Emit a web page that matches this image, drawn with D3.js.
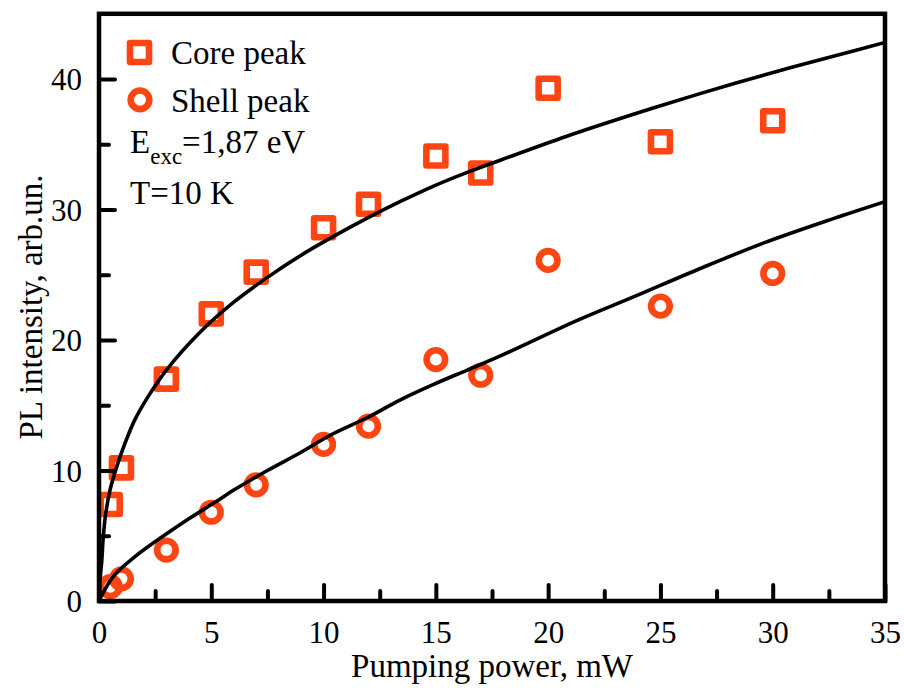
<!DOCTYPE html>
<html>
<head>
<meta charset="utf-8">
<script src="https://cdn.jsdelivr.net/npm/d3@7"></script>
<style>
  html, body { margin: 0; padding: 0; background: #fff; }
  svg { display: block; }
  text { font-family: "Liberation Serif", "Times New Roman", serif; fill: #000; }
</style>
</head>
<body>
<script>
// ---- data ----
const power = [0.5, 1, 3, 5, 7, 10, 12, 15, 17, 20, 25, 30];
const corePeak = [7.4, 10.2, 17.0, 22.0, 25.2, 28.6, 30.4, 34.1, 32.8, 39.3, 35.2, 36.8];
const shellPeak = [1.1, 1.7, 3.9, 6.8, 8.9, 12.0, 13.4, 18.5, 17.3, 26.1, 22.6, 25.1];

// fit lines, points
const coreFitX = [0, 0.04, 0.12, 0.19, 0.30, 0.49, 0.79, 1.16, 1.6, 2.2, 3.0, 4.5, 6.0, 7.5, 9.0, 10.4, 11.9, 13.4, 14.9, 16.4, 17.9, 20.8, 23.8, 26.8, 29.7, 32.7, 35];
const coreFitY = [0, 1.5, 3.0, 4.9, 6.7, 8.5, 10.3, 12.1, 13.9, 15.7, 17.7, 20.6, 22.9, 24.8, 26.5, 27.9, 29.3, 30.6, 31.8, 32.85, 33.8, 35.6, 37.3, 38.9, 40.35, 41.75, 42.8];
const shellFitX = [0, 0.3, 0.7, 1.6, 2.8, 4.0, 5.2, 6.0, 7.5, 9.0, 10.4, 12.0, 13.4, 14.9, 16.4, 17.9, 21.3, 23.8, 26.8, 29.7, 32.7, 35];
const shellFitY = [0, 1.0, 2.0, 3.4, 4.9, 6.3, 7.6, 8.5, 10.0, 11.4, 12.8, 14.1, 15.4, 16.6, 17.7, 18.8, 21.5, 23.3, 25.5, 27.5, 29.3, 30.6];

const xMajor = [0, 5, 10, 15, 20, 25, 30, 35];
const xMinor = [2.5, 7.5, 12.5, 17.5, 22.5, 27.5, 32.5];
const yMajor = [0, 10, 20, 30, 40];
const yMinor = [5, 15, 25, 35];

const legendLabels = ["Core peak", "Shell peak"];
const xTitle = "Pumping power, mW";
const yTitle = "PL intensity, arb.un.";

// ---- layout ----
const W = 904, H = 693;
const m = { left: 99, right: 19, top: 13.8, bottom: 92 };
const color = "#ff4612";

const svg = d3.select("body").append("svg").attr("width", W).attr("height", H);

const x = d3.scaleLinear().domain([0, 35]).range([m.left, W - m.right]);
const y = d3.scaleLinear().domain([0, 45]).range([H - m.bottom, m.top]);

svg.append("clipPath").attr("id", "clip").append("rect")
  .attr("x", x(0)).attr("y", y(45)).attr("width", x(35) - x(0)).attr("height", y(0) - y(45));

const plot = svg.append("g").attr("clip-path", "url(#clip)");

// markers
const sq = 19, cr = 9.3, mw = 6.6;
plot.append("g").selectAll("rect").data(power.map((p, i) => [p, corePeak[i]])).join("rect")
  .attr("x", d => x(d[0]) - sq / 2).attr("y", d => y(d[1]) - sq / 2)
  .attr("width", sq).attr("height", sq)
  .attr("fill", "none").attr("stroke", color).attr("stroke-width", mw).attr("stroke-linejoin", "round");
plot.append("g").selectAll("circle").data(power.map((p, i) => [p, shellPeak[i]])).join("circle")
  .attr("cx", d => x(d[0])).attr("cy", d => y(d[1])).attr("r", cr)
  .attr("fill", "none").attr("stroke", color).attr("stroke-width", mw);

// fit curves
const line = d3.line().x(d => x(d[0])).y(d => y(d[1])).curve(d3.curveCatmullRom.alpha(0.5));
plot.append("path").datum(coreFitX.map((v, i) => [v, coreFitY[i]]))
  .attr("d", line).attr("fill", "none").attr("stroke", "#000").attr("stroke-width", 3.6);
plot.append("path").datum(shellFitX.map((v, i) => [v, shellFitY[i]]))
  .attr("d", line).attr("fill", "none").attr("stroke", "#000").attr("stroke-width", 3.6);

// axes (inward ticks)
const lw = 4.5;
const xAxisMaj = d3.axisBottom(x).tickValues(xMajor).tickSize(-16).tickFormat(d3.format("d")).tickPadding(26);
const xAxisMin = d3.axisBottom(x).tickValues(xMinor).tickSize(-10).tickFormat("");
const yAxisMaj = d3.axisLeft(y).tickValues(yMajor).tickSize(-16).tickFormat(d3.format("d")).tickPadding(26);
const yAxisMin = d3.axisLeft(y).tickValues(yMinor).tickSize(-10).tickFormat("");

function styleAxis(g) {
  g.select(".domain").remove();
  g.selectAll(".tick line").attr("stroke", "#000").attr("stroke-width", 4).attr("stroke-linecap", "round");
  g.selectAll(".tick text").attr("font-family", "Liberation Serif").attr("font-size", 31).attr("fill", "#000");
}
svg.append("g").attr("transform", `translate(0,${y(0)})`).call(xAxisMin).call(styleAxis);
svg.append("g").attr("transform", `translate(0,${y(0)})`).call(xAxisMaj).call(styleAxis)
  .selectAll(".tick text").attr("dy", null).attr("y", 42);
svg.append("g").attr("transform", `translate(${x(0)},0)`).call(yAxisMin).call(styleAxis);
svg.append("g").attr("transform", `translate(${x(0)},0)`).call(yAxisMaj).call(styleAxis)
  .selectAll(".tick text").attr("x", -17).attr("dy", "0.34em");

// frame
svg.append("rect").attr("x", x(0)).attr("y", y(45)).attr("width", x(35) - x(0)).attr("height", y(0) - y(45))
  .attr("fill", "none").attr("stroke", "#000").attr("stroke-width", lw);

// titles
svg.append("text").attr("x", 492).attr("y", 677).attr("text-anchor", "middle").attr("font-size", 33).text(xTitle);
svg.append("text").attr("transform", "translate(42,307) rotate(-90)").attr("text-anchor", "middle").attr("font-size", 33).text(yTitle);

// legend
const leg = svg.append("g");
leg.append("rect").attr("x", 139.5 - sq / 2).attr("y", 52.5 - sq / 2).attr("width", sq).attr("height", sq)
  .attr("fill", "none").attr("stroke", color).attr("stroke-width", mw).attr("stroke-linejoin", "round");
leg.append("circle").attr("cx", 140).attr("cy", 99.8).attr("r", cr)
  .attr("fill", "none").attr("stroke", color).attr("stroke-width", mw);
leg.append("text").attr("x", 171).attr("y", 64).attr("font-size", 33).text(legendLabels[0]);
leg.append("text").attr("x", 171).attr("y", 111.5).attr("font-size", 33).text(legendLabels[1]);

const eT = leg.append("text").attr("x", 130).attr("y", 153).attr("font-size", 33);
eT.append("tspan").text("E");
eT.append("tspan").attr("font-size", 23).attr("dy", 11).text("exc");
eT.append("tspan").attr("dy", -11).text("=1,87 eV");
leg.append("text").attr("x", 130).attr("y", 204).attr("font-size", 33).text("T=10 K");
</script>
</body>
</html>
